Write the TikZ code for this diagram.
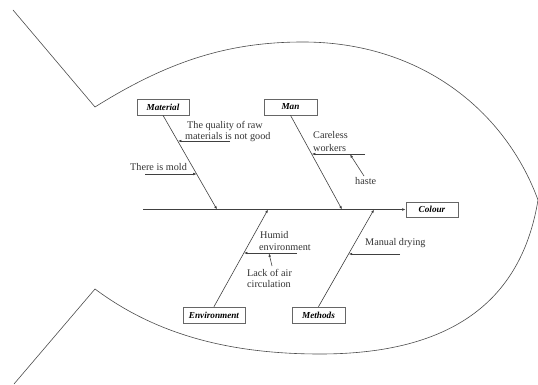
\documentclass[tikz,border=0pt]{standalone}
\usepackage{fontspec}
\setmainfont{Liberation Serif}
\usetikzlibrary{arrows.meta,calc}
\begin{document}
\begin{tikzpicture}[x=1pt,y=-1pt,
  outline/.style={draw=black!70, line width=0.6pt},
  bone/.style={draw=black!75, line width=0.6pt},
  arr/.style={bone, -{Latex[length=3.5pt,width=2.6pt]}},
  catbox/.style={draw=black!60, line width=0.7pt, inner sep=0pt,
    minimum height=16pt, font=\bfseries\itshape\fontsize{9.2}{10}\selectfont},
  txt/.style={inner sep=0pt, anchor=base west, text=black!80,
    font=\fontsize{10.2}{11}\selectfont},
]
\useasboundingbox (0,0) rectangle (538,385);

% fish body and tail
\draw[outline] (13,10) -- (95,107)
  .. controls (170,60) and (230,42) .. (303,42)
  .. controls (420,42) and (505,110) .. (538,200)
  .. controls (520,310) and (440,354) .. (320,354)
  .. controls (220,354) and (150,330) .. (95,289) -- (14,384);

% head and category boxes
\node[catbox, minimum width=52pt, minimum height=15pt] (head) at (432,209.5) {Colour};
\node[catbox, minimum width=52pt] (mat) at (163,107) {Material};
\node[catbox, minimum width=53pt] (man) at (290.5,107) {Man};
\node[catbox, minimum width=62pt] (env) at (214,315) {Environment};
\node[catbox, minimum width=53pt] (met) at (318.5,315) {Methods};

% spine
\coordinate (tail) at (143,209.5);
\draw[arr] (tail) -- (head.west);

% bones meeting the spine
\coordinate (jmat) at (217,209.5);
\coordinate (jman) at (342,209.5);
\coordinate (jenv) at (268,209.5);
\coordinate (jmet) at (374,209.5);
\draw[arr] (mat.south) -- (jmat);
\draw[arr] (man.south) -- (jman);
\draw[arr] (env.north) -- (jenv);
\draw[arr] (met.north) -- (jmet);

% Material causes
\node[txt] (q1) at (187,129) {The quality of raw};
\node[txt] (q2) at (185,139.3) {materials is not good};
\coordinate (qs) at (230,141);
\coordinate (qe) at (177.9,141);
\draw[arr] (qs) -- (qe);
\node[txt] (mold) at (130,170) {There is mold};
\coordinate (ms) at (145,174);
\coordinate (me) at (196.7,174);
\draw[arr] (ms) -- (me);

% Man causes
\node[txt] (c1) at (313,139) {Careless};
\node[txt] (c2) at (313,151) {workers};
\coordinate (cs) at (365,154);
\coordinate (ce) at (311.8,154);
\draw[arr] (cs) -- (ce);
\node[txt] (haste) at (355,184) {haste};
\coordinate (hs) at (364,176);
\coordinate (he) at (350,154.3);
\draw[arr] (hs) -- (he);

% Environment causes
\node[txt] (h1) at (260,238) {Humid};
\node[txt] (h2) at (259,250) {environment};
\coordinate (hus) at (297,253);
\coordinate (hue) at (243.9,253);
\draw[arr] (hus) -- (hue);
\node[txt] (l1) at (247,276) {Lack of air};
\node[txt] (l2) at (247,287) {circulation};
\coordinate (ls) at (272,266);
\coordinate (le) at (269,253.3);
\draw[arr] (ls) -- (le);

% Methods causes
\node[txt] (dry) at (365,245) {Manual drying};
\coordinate (ds) at (400,254);
\coordinate (de) at (348.7,254);
\draw[arr] (ds) -- (de);
\end{tikzpicture}
\end{document}
